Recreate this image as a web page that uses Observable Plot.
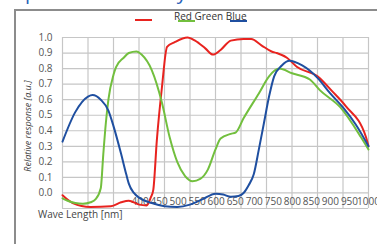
<!DOCTYPE html>
<html><head><meta charset="utf-8">
<script src="https://cdn.jsdelivr.net/npm/d3@7"></script>
<script src="https://cdn.jsdelivr.net/npm/@observablehq/plot@0.6"></script>
<style>
body{margin:0;background:#fff;font-family:"Open Sans",sans-serif;}
#wrap{position:relative;width:377px;height:244px;overflow:hidden;background:#fff;}
#frame{position:absolute;left:14px;top:9px;width:400px;height:300px;border-left:2px solid #8c8c8c;border-top:2px solid #8c8c8c;}
#title{position:absolute;left:14px;top:-22px;font-size:20px;color:#2a62b8;white-space:nowrap;}
#chart{position:absolute;left:0;top:0;}
.sw{position:absolute;height:2px;width:17px;}
#legtext{position:absolute;left:174px;top:9px;font-size:10px;color:#333;white-space:nowrap;}
#ytitle{position:absolute;left:27px;top:126px;transform:translate(-50%,-50%) rotate(-90deg);font-size:9px;font-style:italic;color:#444;white-space:nowrap;}
#xtitle{position:absolute;left:38px;top:207px;font-size:10px;color:#444;white-space:nowrap;}
</style></head><body>
<div id="wrap">
  <div id="title">Spectral sensitivity</div>
  <div id="frame"></div>
  <div id="chart"></div>
  <div class="sw" style="left:135px;top:19px;background:#e8231f"></div>
  <div class="sw" style="left:178px;top:20px;background:#72bf3e"></div>
  <div class="sw" style="left:230px;top:20px;background:#1f4fa0"></div>
  <div id="legtext">Red Green Blue</div>
  <div id="ytitle">Relative response [a.u.]</div>
  <div id="xtitle">Wave Length [nm]</div>
</div>
<script>
// ---- data ----
const seriesNames = ["Red", "Green", "Blue"];
const redWl   = [400, 420, 455, 495, 515, 530, 550, 565, 573, 578, 585, 595, 605, 620, 645, 660, 680, 695, 710, 730, 755, 770, 790, 810, 820, 840, 860, 900, 930, 955, 995, 1000];
const redResp = [-0.015, -0.065, -0.09, -0.085, -0.06, -0.05, -0.075, -0.08, -0.03, 0.02, 0.34, 0.68, 0.94, 0.97, 1.0, 0.98, 0.93, 0.89, 0.92, 0.98, 0.99, 0.99, 0.95, 0.91, 0.90, 0.87, 0.81, 0.75, 0.65, 0.56, 0.36, 0.30];
const greenWl   = [400, 410, 425, 440, 455, 465, 475, 480, 485, 490, 500, 505, 520, 530, 545, 555, 575, 595, 610, 625, 640, 655, 670, 685, 700, 710, 730, 740, 755, 785, 805, 825, 850, 885, 905, 945, 985, 1000];
const greenResp = [-0.035, -0.05, -0.065, -0.07, -0.06, -0.04, 0.03, 0.25, 0.45, 0.60, 0.76, 0.81, 0.87, 0.90, 0.91, 0.89, 0.79, 0.58, 0.36, 0.20, 0.11, 0.075, 0.09, 0.15, 0.28, 0.35, 0.38, 0.39, 0.48, 0.64, 0.75, 0.80, 0.77, 0.73, 0.66, 0.55, 0.36, 0.28];
const blueWl   = [400, 425, 450, 459, 475, 490, 500, 515, 525, 530, 540, 550, 575, 600, 625, 650, 675, 700, 715, 730, 745, 755, 765, 775, 785, 795, 805, 815, 830, 845, 870, 900, 925, 950, 975, 1000];
const blueResp = [0.33, 0.52, 0.62, 0.63, 0.60, 0.53, 0.43, 0.25, 0.12, 0.06, 0.0, -0.03, -0.065, -0.085, -0.09, -0.075, -0.04, -0.005, -0.01, -0.025, -0.02, 0.0, 0.05, 0.12, 0.28, 0.45, 0.62, 0.75, 0.82, 0.85, 0.82, 0.74, 0.64, 0.55, 0.44, 0.30];
const xTickLabels = [400, 450, 500, 550, 600, 650, 700, 750, 800, 850, 900, 950, 1000];
const yTickLabels = [0.0, 0.1, 0.2, 0.3, 0.4, 0.5, 0.6, 0.7, 0.8, 0.9, 1.0];
const yGridValues = [-0.1, 0.0, 0.1, 0.2, 0.3, 0.4, 0.5, 0.6, 0.7, 0.8, 0.9, 1.0];

const colors = {Red: "#e8231f", Green: "#72bf3e", Blue: "#1f4fa0"};
const toRows = (name, wl, resp) => wl.map((w, i) => ({series: name, wl: w, v: resp[i]}));
const rows = {
  Red: toRows("Red", redWl, redResp),
  Green: toRows("Green", greenWl, greenResp),
  Blue: toRows("Blue", blueWl, blueResp)
};
// the reference's wavelength labels are packed tighter than the grid
const labelPos = d3.scaleLinear([400, 1000], [552, 1000]);

const chart = Plot.plot({
  width: 377, height: 244,
  marginLeft: 62, marginRight: 9, marginTop: 37, marginBottom: 36,
  style: {fontFamily: "Open Sans, sans-serif", fontSize: "10px", color: "#555", background: "transparent", overflow: "visible"},
  x: {domain: [400, 1000], axis: null},
  y: {domain: [-0.1, 1.0], axis: null},
  marks: [
    Plot.ruleX(xTickLabels, {stroke: "#c6c6c6", strokeWidth: 1.2}),
    Plot.ruleY(yGridValues, {stroke: "#c6c6c6", strokeWidth: 1.2}),
    Plot.axisY(yTickLabels, {tickSize: 0, tickPadding: 10, tickFormat: d3.format(".1f"), label: null, fontSize: 10, fill: "#555"}),
    Plot.text(xTickLabels, {x: d => labelPos(d), y: 0, dy: 9, text: d => String(d), fontSize: 10, fill: "#555"}),
    ...seriesNames.map(n => Plot.line(rows[n], {x: "wl", y: "v", stroke: colors[n], strokeWidth: 2, curve: "monotone-x"}))
  ]
});
document.getElementById("chart").appendChild(chart);
</script>
</body></html>
